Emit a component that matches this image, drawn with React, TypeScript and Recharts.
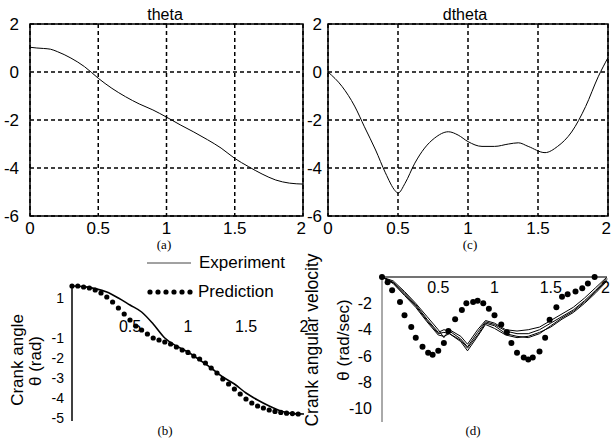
import React from 'react';
import { LineChart, Line, XAxis, YAxis, CartesianGrid, ReferenceArea, ReferenceDot, Legend } from 'recharts';

// ---------- data ----------
// (a) theta
const thetaT = [0, 0.05, 0.1, 0.15, 0.2, 0.3, 0.4, 0.5, 0.6, 0.7, 0.8, 0.9, 1.0, 1.1, 1.2, 1.3, 1.4, 1.5, 1.6, 1.7, 1.8, 1.9, 2.0];
const thetaV = [1.03, 1.0, 0.98, 0.95, 0.85, 0.58, 0.22, -0.26, -0.68, -1.03, -1.33, -1.58, -1.88, -2.2, -2.5, -2.82, -3.17, -3.6, -3.94, -4.25, -4.5, -4.63, -4.67];

// (c) dtheta
const dthetaT = [0, 0.1, 0.19, 0.26, 0.34, 0.41, 0.48, 0.5, 0.55, 0.62, 0.69, 0.76, 0.86, 0.93, 1.0, 1.1, 1.19, 1.29, 1.36, 1.43, 1.55, 1.64, 1.74, 1.84, 1.93, 2.0];
const dthetaV = [0, -0.6, -1.42, -2.28, -3.25, -4.2, -4.95, -5.05, -4.64, -3.8, -3.17, -2.76, -2.49, -2.63, -2.9, -3.1, -3.1, -3.0, -2.95, -3.1, -3.36, -3.1, -2.5, -1.44, -0.2, 0.6];

// (b) crank angle
const angleExpT = [0, 0.1, 0.2, 0.3, 0.4, 0.5, 0.6, 0.7, 0.8, 0.9, 1.0, 1.1, 1.2, 1.3, 1.4, 1.5, 1.6, 1.7, 1.8, 1.9, 2.0];
const angleExpV = [1.6, 1.57, 1.47, 1.3, 1.0, 0.65, 0.3, -0.3, -1.0, -1.4, -1.7, -2.1, -2.5, -2.95, -3.3, -3.75, -4.1, -4.4, -4.65, -4.78, -4.8];
const anglePredT = [0, 0.05, 0.1, 0.15, 0.2, 0.25, 0.3, 0.35, 0.4, 0.45, 0.5, 0.55, 0.6, 0.65, 0.7, 0.75, 0.8, 0.85, 0.9, 0.95, 1.0, 1.05, 1.1, 1.15, 1.2, 1.25, 1.3, 1.35, 1.4, 1.45, 1.5, 1.55, 1.6, 1.65, 1.7, 1.75, 1.8, 1.85, 1.9, 1.95];
const anglePredV = [1.6, 1.6, 1.55, 1.5, 1.4, 1.25, 1.05, 0.8, 0.5, 0.2, -0.1, -0.4, -0.6, -0.8, -1.0, -1.1, -1.2, -1.3, -1.45, -1.6, -1.72, -1.9, -2.05, -2.25, -2.5, -2.75, -3.05, -3.3, -3.55, -3.8, -4.05, -4.25, -4.4, -4.5, -4.6, -4.67, -4.72, -4.76, -4.78, -4.8];
const angleXTicks = [0.5, 1, 1.5, 2];
const angleYTicks = [1, -1, -2, -3, -4, -5];

// (d) crank angular velocity
const velExpT = [0, 0.1, 0.2, 0.3, 0.4, 0.5, 0.55, 0.6, 0.7, 0.76, 0.85, 0.92, 1.0, 1.1, 1.2, 1.3, 1.4, 1.5, 1.6, 1.7, 1.8, 1.9, 2.0];
const velExp1 = [0, -0.4, -1.2, -2.1, -3.2, -4.2, -4.0, -4.1, -4.7, -5.3, -4.2, -3.4, -3.6, -4.1, -4.3, -4.3, -4.0, -3.5, -3.0, -2.5, -1.8, -1.0, -0.1];
const velExp2 = [0, -0.5, -1.4, -2.3, -3.4, -4.4, -4.5, -4.3, -4.9, -5.6, -4.5, -3.6, -3.9, -4.4, -4.6, -4.5, -4.2, -3.8, -3.2, -2.7, -2.0, -1.2, -0.3];
const velExp3 = [0, -0.3, -1.1, -2.0, -3.0, -4.0, -4.6, -4.0, -4.5, -5.1, -4.0, -3.3, -3.5, -4.0, -4.1, -4.0, -3.8, -3.3, -2.8, -2.3, -1.6, -0.8, 0];
const velExp4 = [0, -0.45, -1.3, -2.2, -3.3, -4.3, -4.2, -4.3, -4.8, -5.4, -4.4, -3.5, -3.7, -4.3, -4.5, -4.6, -4.3, -3.7, -3.1, -2.6, -1.9, -1.1, -0.2];
const velPredT = [0, 0.05, 0.09, 0.16, 0.2, 0.26, 0.3, 0.36, 0.41, 0.45, 0.5, 0.55, 0.59, 0.65, 0.71, 0.75, 0.81, 0.85, 0.9, 0.95, 1.0, 1.06, 1.11, 1.15, 1.2, 1.26, 1.3, 1.34, 1.4, 1.45, 1.49, 1.55, 1.6, 1.65, 1.72, 1.78, 1.83, 1.89];
const velPredV = [0, -0.4, -1.0, -1.9, -2.9, -3.8, -4.6, -5.3, -5.75, -5.9, -5.6, -5.0, -4.1, -3.2, -2.5, -2.0, -1.9, -1.8, -2.0, -2.4, -2.9, -3.6, -4.2, -5.0, -5.75, -6.1, -6.25, -6.1, -5.65, -4.6, -3.25, -2.3, -1.5, -1.3, -1.1, -0.85, -0.5, 0.0];
const velXTicks = [0.5, 1, 1.5, 2];
const velYTicks = [-2, -4, -6, -8, -10];

const topXTicks = [0, 0.5, 1, 1.5, 2];
const topYTicks = [-6, -4, -2, 0, 2];

const zip = (ts: number[], vs: number[]) => ts.map((t, i) => ({ t, v: vs[i] }));

const thetaData = zip(thetaT, thetaV);
const dthetaData = zip(dthetaT, dthetaV);
const angleExpData = zip(angleExpT, angleExpV);
const anglePredData = zip(anglePredT, anglePredV);
const velExpData = [velExp1, velExp2, velExp3, velExp4].map((vs) => zip(velExpT, vs));
const velPredData = zip(velPredT, velPredV);

const F = "'Liberation Sans', Arial, sans-serif";
const SERIF = "'Liberation Serif', 'Times New Roman', serif";

const tickStyle = (size: number) => ({ fontSize: size, fill: '#000', fontFamily: F });

// x tick that keeps the last label ("2") inside the panel's right edge
const makeXTick = (size: number) => (props: any) => {
  const { x, y, payload } = props;
  const last = payload.value === 2;
  return (
    <text
      x={x + (last ? 3 : 0)}
      y={y}
      dy="0.71em"
      textAnchor={last ? 'end' : 'middle'}
      fontSize={size}
      fill="#000"
      fontFamily={F}
    >
      {String(payload.value)}
    </text>
  );
};

function TopPanel({ data, yWidth, marginLeft }: { data: { t: number; v: number }[]; yWidth: number; marginLeft: number }) {
  return (
    <LineChart width={306} height={240} data={data} margin={{ top: 24, right: 3, bottom: 4, left: marginLeft }}>
      <CartesianGrid stroke="#000" strokeDasharray="4 3" strokeWidth={1.5} />
      <XAxis
        dataKey="t"
        type="number"
        domain={[0, 2]}
        ticks={topXTicks}
        tickLine={false}
        axisLine={false}
        tickSize={0}
        tickMargin={6}
        height={20}
        tick={makeXTick(17)}
        interval={0}
      />
      <YAxis
        type="number"
        domain={[-6, 2]}
        ticks={topYTicks}
        tickLine={false}
        axisLine={false}
        tickSize={0}
        tickMargin={yWidth - 14}
        width={yWidth}
        tick={tickStyle(17)}
        interval={0}
      />
      <ReferenceArea x1={0} x2={2} y1={-6} y2={2} fill="none" stroke="#000" strokeWidth={1.5} fillOpacity={0} />
      <Line dataKey="v" type="monotone" stroke="#000" strokeWidth={1} dot={false} isAnimationActive={false} />
    </LineChart>
  );
}

const legendContent = () => (
  <div style={{ fontFamily: F, fontSize: 17, color: '#000' }}>
    <div style={{ display: 'flex', alignItems: 'center', height: 29 }}>
      <svg width={52} height={10}>
        <line x1={0} x2={44} y1={5} y2={5} stroke="#444" strokeWidth={1} />
      </svg>
      <span>Experiment</span>
    </div>
    <div style={{ display: 'flex', alignItems: 'center', height: 29 }}>
      <svg width={51} height={10}>
        {[0, 1, 2, 3, 4, 5].map((i) => (
          <circle key={i} cx={3 + i * 8} cy={5} r={2.6} fill="#000" />
        ))}
      </svg>
      <span>Prediction</span>
    </div>
  </div>
);

function AnglePanel() {
  return (
    <LineChart width={320} height={218} margin={{ top: 65, right: 16, bottom: 17, left: 0 }}>
      <XAxis dataKey="t" type="number" domain={[0, 2]} hide />
      <YAxis
        type="number"
        domain={[-5.15, 1.65]}
        ticks={angleYTicks}
        tickLine={false}
        axisLine={{ stroke: '#000', strokeWidth: 1.5 }}
        tickSize={0}
        tickMargin={8}
        width={72}
        tick={tickStyle(14)}
        interval={0}
      />
      <Legend
        layout="horizontal"
        verticalAlign="middle"
        align="center"
        content={legendContent}
        wrapperStyle={{ position: 'absolute', left: 147, top: 28, width: 170, height: 60 }}
      />
      {angleXTicks.map((t) => (
        <ReferenceDot
          key={t}
          x={t}
          y={0}
          r={0}
          fill="none"
          stroke="none"
          label={{ value: String(t), position: 'bottom', offset: 3, fontSize: 16, fill: '#000', fontFamily: F }}
        />
      ))}
      <Line data={angleExpData} dataKey="v" type="monotone" stroke="#000" strokeWidth={1.6} dot={false} isAnimationActive={false} name="Experiment" />
      <Line
        data={anglePredData}
        dataKey="v"
        type="linear"
        stroke="none"
        dot={{ r: 2.6, fill: '#000', stroke: 'none' }}
        isAnimationActive={false}
        name="Prediction"
      />
    </LineChart>
  );
}

function VelocityPanel() {
  return (
    <LineChart width={306} height={218} margin={{ top: 57, right: 4, bottom: 16, left: 0 }}>
      <XAxis
        dataKey="t"
        type="number"
        domain={[0, 2]}
        ticks={velXTicks}
        orientation="top"
        mirror
        tickLine={false}
        axisLine={{ stroke: '#444', strokeWidth: 1.5 }}
        tickSize={0}
        tickMargin={5}
        tick={makeXTick(16)}
        interval={0}
      />
      <YAxis
        type="number"
        domain={[-11, 0]}
        ticks={velYTicks}
        tickLine={false}
        axisLine={{ stroke: '#555', strokeWidth: 1 }}
        tickSize={0}
        tickMargin={10}
        width={77}
        tick={tickStyle(16)}
        interval={0}
      />
      {velExpData.map((d, i) => (
        <Line key={i} data={d} dataKey="v" type="linear" stroke="#000" strokeWidth={1} dot={false} isAnimationActive={false} />
      ))}
      <Line
        data={velPredData}
        dataKey="v"
        type="linear"
        stroke="none"
        dot={{ r: 3, fill: '#000', stroke: 'none' }}
        isAnimationActive={false}
      />
    </LineChart>
  );
}

export default function App() {
  return (
    <div style={{ position: 'absolute', left: 0, top: 0, width: 611, height: 438, background: '#fff', overflow: 'hidden' }}>
      <div style={{ position: 'absolute', left: 0, top: 0 }}>
        <TopPanel data={thetaData} yWidth={25} marginLeft={5} />
      </div>
      <div style={{ position: 'absolute', left: 305, top: 0 }}>
        <TopPanel data={dthetaData} yWidth={20} marginLeft={3} />
      </div>
      <div style={{ position: 'absolute', left: 0, top: 220 }}>
        <AnglePanel />
      </div>
      <div style={{ position: 'absolute', left: 305, top: 220 }}>
        <VelocityPanel />
      </div>
      <svg width={611} height={438} style={{ position: 'absolute', left: 0, top: 0, pointerEvents: 'none' }}>
        <g fontFamily={F} fill="#000">
          <text x={165} y={20} fontSize={16} textAnchor="middle">theta</text>
          <text x={465} y={20} fontSize={16} textAnchor="middle">dtheta</text>
          <text x={17} y={360} fontSize={17} textAnchor="middle" dominantBaseline="central" transform="rotate(-90 17 360)">Crank angle</text>
          <text x={35} y={361} fontSize={17} textAnchor="middle" dominantBaseline="central" transform="rotate(-90 35 361)">θ (rad)</text>
          <text x={312} y={340} fontSize={17.5} textAnchor="middle" dominantBaseline="central" transform="rotate(-90 312 340)">Crank angular velocity</text>
          <text x={343} y={340} fontSize={17} textAnchor="middle" dominantBaseline="central" transform="rotate(-90 343 340)">θ (rad/sec)</text>
        </g>
        <g fontFamily={SERIF} fill="#000" fontSize={13} textAnchor="middle">
          <text x={164} y={249}>(a)</text>
          <text x={470} y={249}>(c)</text>
          <text x={165} y={435}>(b)</text>
          <text x={473} y={435}>(d)</text>
        </g>
      </svg>
    </div>
  );
}
